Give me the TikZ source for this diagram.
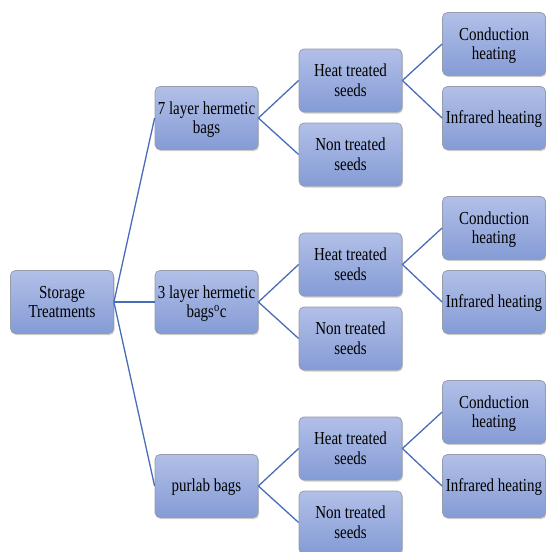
\documentclass[tikz,border=0pt]{standalone}
\usepackage{fontspec}
\usepackage{graphicx}
\setmainfont{Liberation Serif}
\usetikzlibrary{shadows}
\definecolor{boxtop}{RGB}{178,192,232}
\definecolor{boxbot}{RGB}{132,155,213}
\definecolor{boxline}{RGB}{150,156,170}
\definecolor{linkc}{RGB}{72,108,184}
\newcommand\tx[1]{\raisebox{-2pt}[\height][\depth]{\scalebox{1}[1.22]{\begin{tabular}{@{}c@{}}#1\end{tabular}}}}
\tikzset{
  box/.style={draw=boxline, line width=0.8pt, rounded corners=5pt,
    top color=boxtop, bottom color=boxbot,
    minimum width=103pt, minimum height=63pt, inner sep=0pt,
    align=center, font=\fontsize{15}{16}\selectfont,
    drop shadow={shadow xshift=1pt, shadow yshift=-1.5pt, fill=black, opacity=0.2}},
  link/.style={draw=linkc, line width=1.3pt}
}
\begin{document}
\begin{tikzpicture}[x=1pt,y=-1pt]
\useasboundingbox (0,0) rectangle (546,552);
\node[box] (root) at (62,302) {\tx{Storage\\Treatments}};
\node[box] (b7) at (206.5,118) {\tx{7 layer hermetic\\bags}};
\node[box] (b3) at (206.5,302) {\tx{3 layer hermetic\\bags$^{\mathrm{o}}$c}};
\node[box] (bp) at (206.5,486) {\tx{purlab bags}};
\foreach \p/\dy in {b7/0, b3/184, bp/368}{
  \node[box] (\p h) at (350.5,80.5+\dy) {\tx{Heat treated\\seeds}};
  \node[box] (\p n) at (350.5,154.5+\dy) {\tx{Non treated\\seeds}};
  \node[box] (\p c) at (494,44+\dy) {\tx{Conduction\\heating}};
  \node[box] (\p i) at (494,118+\dy) {\tx{Infrared heating}};
  \draw[link] (\p.east) -- (\p h.west);
  \draw[link] (\p.east) -- (\p n.west);
  \draw[link] (\p h.east) -- (\p c.west);
  \draw[link] (\p h.east) -- (\p i.west);
  \draw[link] (root.east) -- (\p.west);
}
\end{tikzpicture}
\end{document}
